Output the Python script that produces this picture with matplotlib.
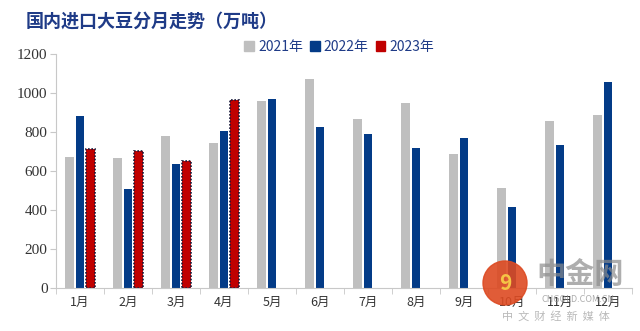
import matplotlib.pyplot as plt
from matplotlib.patches import Patch, Ellipse
import numpy as np

months = ["1月", "2月", "3月", "4月", "5月", "6月", "7月", "8月", "9月", "10月", "11月", "12月"]
y2021 = [670, 668, 777, 743, 961, 1069, 865, 949, 686, 512, 857, 887]
y2022 = [882, 508, 635, 806, 968, 825, 787, 716, 771, 414, 734, 1057]
y2023 = [713, 703, 650, 962]

gray = "#bfbfbf"
blue = "#033b87"
red = "#c00000"
title_color = "#1f3b87"

plt.rcParams['font.family'] = ['Noto Sans CJK SC', 'DejaVu Sans']

fig = plt.figure(figsize=(6.4, 3.31), dpi=100)
ax = fig.add_axes([0.0875, 0.130, 0.9, 0.707])

x = np.arange(len(months))
w = 0.17
step = 0.22
ax.bar(x - step, y2021, width=w, color=gray, zorder=2)
ax.bar(x, y2022, width=w, color=blue, zorder=2)
ax.bar(np.arange(len(y2023)) + step, y2023, width=w, color=red,
       edgecolor="#1a1a3a", linestyle=(0, (1, 1)), linewidth=1.2, zorder=2)

ax.set_xlim(-0.5, 11.5)
ax.set_ylim(0, 1200)
ax.set_yticks(range(0, 1201, 200))
ax.set_yticklabels([str(v) for v in range(0, 1201, 200)],
                   family=['Liberation Serif'], fontsize=11, color="#333333")
ax.set_xticks(x)
ax.set_xticklabels(months, fontsize=9, color="#333333")
ax.set_xticks(np.arange(-0.5, 12, 1), minor=True)
ax.tick_params(axis='x', which='major', length=0, pad=6)
ax.tick_params(axis='x', which='minor', length=4, color="#c8c8c8")
ax.tick_params(axis='y', length=4, color="#c8c8c8", pad=2)

for s in ["top", "right"]:
    ax.spines[s].set_visible(False)
ax.spines["left"].set_color("#c8c8c8")
ax.spines["bottom"].set_color("#c8c8c8")

fig.text(0.04, 0.935, "国内进口大豆分月走势（万吨）", fontsize=13, fontweight="bold",
         color=title_color, va="center")

handles = [Patch(color=gray), Patch(color=blue), Patch(color=red)]
fig.legend(handles, ["2021年", "2022年", "2023年"], loc="center", bbox_to_anchor=(0.53, 0.858),
           ncol=3, frameon=False, fontsize=10, labelcolor=title_color,
           handlelength=0.7, handleheight=0.7, handletextpad=0.3, columnspacing=0.5)

# watermark (中金网 logo)
logo = Ellipse((505 / 640, 1 - 283 / 331), 44 / 640, 44 / 331, transform=fig.transFigure,
               color="#dd4a22", alpha=0.9, zorder=5)
fig.patches.append(logo)
fig.text(505 / 640, 1 - 283 / 331, "9", fontsize=15, color="#f5c445", fontweight="bold",
         ha="center", va="center", zorder=6)
fig.text(580 / 640, 1 - 274 / 331, "中金网", fontsize=21, fontweight="bold", color="#8c8c8c",
         alpha=0.7, ha="center", va="center")
fig.text(578 / 640, 1 - 299 / 331, "CNGOLD.COM.CN", fontsize=6.5, color="#8c8c8c", alpha=0.7,
         ha="center", va="center")
fig.text(556 / 640, 1 - 316 / 331, "中  文  财  经  新  媒  体", fontsize=8, color="#8c8c8c",
         alpha=0.6, ha="center", va="center")

fig.savefig("out.png", dpi=100)
